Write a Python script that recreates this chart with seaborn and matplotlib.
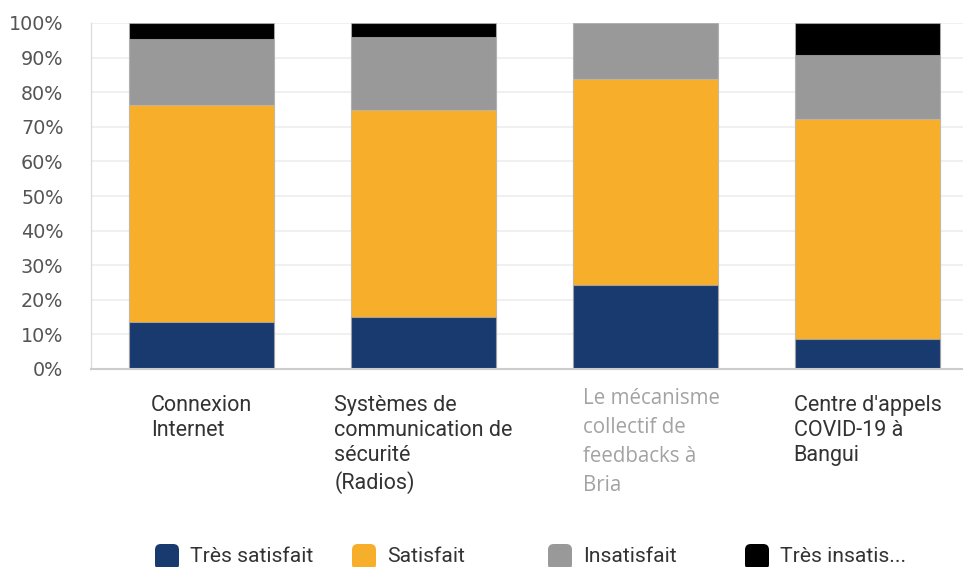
import matplotlib
matplotlib.use("Agg")
import matplotlib.pyplot as plt
import seaborn as sns
import numpy as np
import pandas as pd
from matplotlib.patches import FancyBboxPatch

categories = ["Connexion\nInternet",
              "Systèmes de\ncommunication de\nsécurité\n(Radios)",
              "Le mécanisme\ncollectif de\nfeedbacks à\nBria",
              "Centre d'appels\nCOVID-19 à\nBangui"]
tres_satisfait = [13.7, 14.9, 24.3, 8.6]
satisfait = [62.7, 60.0, 59.6, 63.7]
insatisfait = [19.0, 21.0, 16.1, 18.4]
tres_insatisfait = [4.6, 4.1, 0.0, 9.3]
series_names = ["Très satisfait", "Satisfait", "Insatisfait", "Très insatis..."]
colors = ["#193A6F", "#F7AE2A", "#999999", "#000000"]
yticks = [0, 10, 20, 30, 40, 50, 60, 70, 80, 90, 100]
ytick_labels = ["0%", "10%", "20%", "30%", "40%", "50%", "60%", "70%", "80%", "90%", "100%"]

sns.set_theme(style="white")
plt.rcParams['font.family'] = ['DejaVu Sans']

W, H = 963, 567
fig = plt.figure(figsize=(W / 100, H / 100), dpi=100)
ax = fig.add_axes([90.5 / W, 1 - 369 / H, 1 - 90.5 / W, (369 - 23) / H])

keys = [f"c{i}" for i in range(len(categories))]
vals = np.array([tres_satisfait, satisfait, insatisfait, tres_insatisfait])
cum = np.cumsum(vals, axis=0)
for i in range(3, -1, -1):
    df = pd.DataFrame({"cat": keys, "val": cum[i]})
    sns.barplot(data=df, x="cat", y="val", color=colors[i], width=0.653,
                edgecolor=(0.75, 0.75, 0.75, 0.6), linewidth=0.8,
                saturation=1, ax=ax, zorder=2)

ax.set_ylim(0, 100)
ax.set_xlim(-0.5, 3.43)
ax.set_yticks(yticks)
ax.set_yticklabels(ytick_labels, fontsize=13.8, color="#555555")
ax.tick_params(axis="y", length=0, pad=19.5)
ax.set_xticks([])
ax.set_xlabel("")
ax.set_ylabel("")
ax.grid(axis="y", color="#eeeeee", linewidth=1.2, zorder=0)
ax.set_axisbelow(True)
for s in ["top", "right"]:
    ax.spines[s].set_visible(False)
ax.spines["left"].set_color("#dddddd")
ax.spines["left"].set_linewidth(1)
ax.spines["bottom"].set_color("#cccccc")
ax.spines["bottom"].set_linewidth(1.5)

# category labels
for i, lab in enumerate(categories):
    if i == 2:
        ax.text(i + 0.027, -5.4, lab, ha="center", va="top", multialignment="left",
                fontsize=14.8, color="#a3a3a3", family=["Open Sans", "DejaVu Sans"],
                linespacing=1.5, transform=ax.transData, clip_on=False)
    else:
        ax.text(i, -7.4, lab, ha="center", va="top", multialignment="left",
                fontsize=15.5, color="#333333", family=["Roboto", "DejaVu Sans"],
                linespacing=1.27, transform=ax.transData, clip_on=False)

# legend (swatches + labels)
sw_x = [155, 352, 548, 745]
for x0, name, c in zip(sw_x, series_names, colors):
    patch = FancyBboxPatch((x0 / W, 1 - 570 / H), 24 / W, 26 / H,
                           boxstyle="round,pad=0,rounding_size=0.006",
                           transform=fig.transFigure, facecolor=c, edgecolor="none",
                           mutation_aspect=W / H)
    fig.patches.append(patch)
    fig.text((x0 + 35) / W, 1 - 557 / H, name, ha="left", va="center",
             fontsize=15.2, color="#333333", family=["Roboto", "DejaVu Sans"])

fig.savefig("out.png", dpi=100)
